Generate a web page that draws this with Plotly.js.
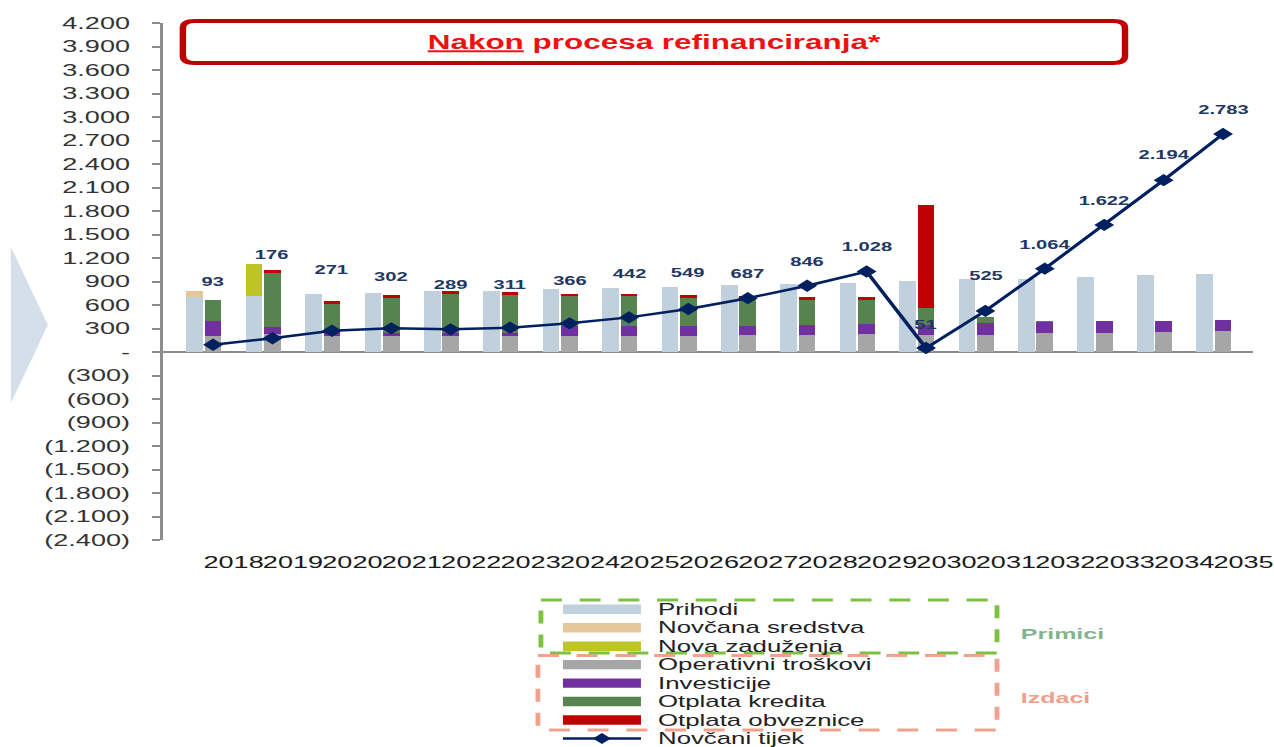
<!DOCTYPE html>
<html>
<head>
<meta charset="utf-8">
<script src="https://cdn.plot.ly/plotly-3.0.1.min.js"></script>
<style>
  html, body { margin: 0; padding: 0; background: #fff; overflow: hidden; width: 1274px; height: 747px; }
  #chart { width: 790px; height: 747px; transform-origin: 0 0; }
</style>
</head>
<body>
<div id="chart"></div>
<script>
// ---------------- DATA ----------------
const years = ['2018','2019','2020','2021','2022','2023','2024','2025','2026','2027','2028','2029','2030','2031','2032','2033','2034','2035'];

// Primici (receipts)
const prihodi          = [700, 720, 745, 755, 773, 785, 807, 820, 836, 853, 870, 887, 904, 926, 935, 955, 977, 998];
const novcanaSredstva  = [75, 0, 0, 0, 0, 0, 0, 0, 0, 0, 0, 0, 0, 0, 0, 0, 0, 0];
const novaZaduzenja    = [0, 405, 0, 0, 0, 0, 0, 0, 0, 0, 0, 0, 0, 0, 0, 0, 0, 0];

// Izdaci (expenditures)
const operativniTroskovi = [202, 230, 200, 200, 200, 200, 202, 202, 210, 219, 223, 232, 223, 223, 240, 245, 253, 262];
const investicije        = [200, 85, 40, 40, 40, 40, 124, 124, 119, 119, 128, 128, 128, 149, 149, 145, 145, 145];
const otplataKredita     = [268, 690, 375, 447, 503, 490, 387, 383, 357, 350, 319, 298, 213, 72, 6, 0, 0, 0];
const otplataObveznice   = [0, 43, 30, 43, 42, 30, 30, 34, 43, 30, 34, 42, 1319, 0, 0, 0, 0, 0];

// Novčani tijek (cash flow line)
const novcaniTijek       = [93, 176, 271, 302, 289, 311, 366, 442, 549, 687, 846, 1028, 51, 525, 1064, 1622, 2194, 2783];
const novcaniTijekLabels = ['93','176','271','302','289','311','366','442','549','687','846','1.028','51','525','1.064','1.622','2.194','2.783'];

// Y axis ticks
const yTickVals = [-2400,-2100,-1800,-1500,-1200,-900,-600,-300,0,300,600,900,1200,1500,1800,2100,2400,2700,3000,3300,3600,3900,4200];
const yTickText = ['(2.400)','(2.100)','(1.800)','(1.500)','(1.200)','(900)','(600)','(300)','-','300','600','900','1.200','1.500','1.800','2.100','2.400','2.700','3.000','3.300','3.600','3.900','4.200'];

// Legend group captions
const groupPrimici = 'Primici';
const groupIzdaci  = 'Izdaci';
const chartTitle   = '<b><u>Nakon</u> procesa refinanciranja*</b>';

// ---------------- STYLE / LAYOUT CONFIG ----------------
const S = 1274 / 790;            // horizontal stretch of the reference picture
const FONT = 'Liberation Sans, Arial, sans-serif';
const C = {
  prihodi: '#c0d0dc', novcana: '#e5c79c', nova: '#bcc524',
  oper: '#a6a6a6', inv: '#7030a0', kred: '#56834f', obv: '#c00000',
  line: '#002060', label: '#1f3864'
};
// label lift above each line point (px), to clear the bars
const labelRaise = [63, 83, 61, 51, 44, 43, 42, 43, 36, 24, 24, 24, 23, 35, 24, 24, 25, 24];

const idx = years.map((_, i) => i);
const OFF = 0.155, BW = 0.28;
const leftX  = idx.map(i => i - OFF);
const rightX = idx.map(i => i + OFF);

function bar(name, x, y, color) {
  return { type: 'bar', name, x, y, width: BW, marker: { color, line: { width: 0 } }, showlegend: false, hoverinfo: 'name+y' };
}

const traces = [
  bar('Prihodi', leftX, prihodi, C.prihodi),
  bar('Novčana sredstva', leftX, novcanaSredstva, C.novcana),
  bar('Nova zaduženja', leftX, novaZaduzenja, C.nova),
  bar('Operativni troškovi', rightX, operativniTroskovi, C.oper),
  bar('Investicije', rightX, investicije, C.inv),
  bar('Otplata kredita', rightX, otplataKredita, C.kred),
  bar('Otplata obveznice', rightX, otplataObveznice, C.obv),
  { type: 'scatter', mode: 'lines+markers', name: 'Novčani tijek', x: rightX, y: novcaniTijek,
    line: { color: C.line, width: 2.5 }, marker: { symbol: 'diamond', size: 9.5, color: C.line },
    showlegend: false, cliponaxis: false }
];

// pixel (reference picture) -> paper helpers; plot area = x 163..1253, y 23..540
const PX0 = 163, PXW = 1090, PY1 = 540, PYH = 517;
const px = v => (v - PX0) / PXW;
const py = v => (PY1 - v) / PYH;

const shapes = [];
const annotations = [];

// data labels
novcaniTijek.forEach((v, i) => {
  annotations.push({ x: rightX[i], y: v, xref: 'x', yref: 'y', text: '<b>' + novcaniTijekLabels[i] + '</b>',
    showarrow: false, xanchor: 'center', yanchor: 'middle', yshift: labelRaise[i],
    font: { family: FONT, size: 12.5, color: C.label } });
});

// title box (rounded rectangle)
(function () {
  const x0 = 183, x1 = 1125, y0 = 21, y1 = 63, rx = 12, ry = 7;
  const P = (x, y) => px(x).toFixed(5) + ',' + py(y).toFixed(5);
  const path = 'M' + P(x0 + rx, y0) + ' L' + P(x1 - rx, y0) + ' Q' + P(x1, y0) + ' ' + P(x1, y0 + ry) +
    ' L' + P(x1, y1 - ry) + ' Q' + P(x1, y1) + ' ' + P(x1 - rx, y1) +
    ' L' + P(x0 + rx, y1) + ' Q' + P(x0, y1) + ' ' + P(x0, y1 - ry) +
    ' L' + P(x0, y0 + ry) + ' Q' + P(x0, y0) + ' ' + P(x0 + rx, y0) + ' Z';
  shapes.push({ type: 'path', xref: 'paper', yref: 'paper', path, line: { color: '#c00000', width: 4 }, fillcolor: 'rgba(0,0,0,0)' });
})();

// left chevron
shapes.push({ type: 'path', xref: 'paper', yref: 'paper',
  path: 'M' + px(11) + ',' + py(247) + ' L' + px(48) + ',' + py(325) + ' L' + px(11) + ',' + py(403) + ' Z',
  fillcolor: '#d4dfe9', line: { width: 0 } });

// legend dashed group boxes
shapes.push({ type: 'rect', xref: 'paper', yref: 'paper', x0: px(541), x1: px(997), y0: py(600), y1: py(653),
  line: { color: '#7cc142', width: 3, dash: '13px,11px' }, fillcolor: 'rgba(0,0,0,0)' });
shapes.push({ type: 'rect', xref: 'paper', yref: 'paper', x0: px(538), x1: px(997), y0: py(655.5), y1: py(730),
  line: { color: '#f2a18c', width: 3, dash: '13px,11px' }, fillcolor: 'rgba(0,0,0,0)' });
annotations.push({ xref: 'paper', yref: 'paper', x: px(1018), y: py(633), xanchor: 'left', yanchor: 'middle', showarrow: false,
  text: '<b>' + groupPrimici + '</b>', font: { family: FONT, size: 15.5, color: '#84b48e' } });
annotations.push({ xref: 'paper', yref: 'paper', x: px(1018), y: py(697), xanchor: 'left', yanchor: 'middle', showarrow: false,
  text: '<b>' + groupIzdaci + '</b>', font: { family: FONT, size: 15.5, color: '#f0a08a' } });

// custom legend (swatches built from the traces)
const LEG_Y0 = 609.3, LEG_DY = 18.45, SW_X0 = 563, SW_X1 = 641, TXT_X = 655;
traces.forEach((t, i) => {
  const cy = LEG_Y0 + i * LEG_DY;
  if (t.type === 'bar') {
    shapes.push({ type: 'rect', xref: 'paper', yref: 'paper', x0: px(SW_X0), x1: px(SW_X1), y0: py(cy + 4.7), y1: py(cy - 4.7),
      fillcolor: t.marker.color, line: { width: 0 } });
  } else {
    shapes.push({ type: 'line', xref: 'paper', yref: 'paper', x0: px(SW_X0), x1: px(SW_X1), y0: py(cy), y1: py(cy),
      line: { color: t.line.color, width: 2.5 } });
    const mx = (SW_X0 + SW_X1) / 2;
    shapes.push({ type: 'path', xref: 'paper', yref: 'paper',
      path: 'M' + px(mx - 9) + ',' + py(cy) + ' L' + px(mx) + ',' + py(cy - 5.5) + ' L' + px(mx + 9) + ',' + py(cy) + ' L' + px(mx) + ',' + py(cy + 5.5) + ' Z',
      fillcolor: t.line.color, line: { width: 0 } });
  }
  annotations.push({ xref: 'paper', yref: 'paper', x: px(TXT_X), y: py(cy), xanchor: 'left', yanchor: 'middle', showarrow: false,
    text: t.name, font: { family: FONT, size: 16, color: '#222222' } });
});

const layout = {
  width: 790, height: 747, autosize: false,
  margin: { l: PX0 / S, r: (1274 - PX0 - PXW) / S, t: 23, b: 747 - PY1, pad: 0 },
  paper_bgcolor: '#ffffff', plot_bgcolor: '#ffffff',
  barmode: 'stack', bargap: 0,
  showlegend: false,
  title: { text: chartTitle, xref: 'container', yref: 'container', x: 654 / 1274, y: 1 - 42 / 747,
    xanchor: 'center', yanchor: 'middle', font: { family: FONT, size: 19.5, color: '#ee1111' } },
  xaxis: {
    range: [-0.69, 17.66], tickvals: idx.map(i => i + 0.5), ticktext: years, tickangle: 0,
    showgrid: false, zeroline: false, showline: false, ticks: '', ticklabeloverflow: 'allow',
    tickfont: { family: FONT, size: 16.8, color: '#1a1a1a' }, ticklabelstandoff: 10, fixedrange: true
  },
  yaxis: {
    range: [-2400, 4200], tickvals: yTickVals, ticktext: yTickText,
    showgrid: false, zeroline: true, zerolinecolor: '#8c8c8c', zerolinewidth: 2.5,
    showline: true, linecolor: '#8c8c8c', linewidth: 2,
    ticks: 'outside', ticklen: 5, tickwidth: 2, tickcolor: '#8c8c8c',
    tickfont: { family: FONT, size: 16.8, color: '#333333' }, ticklabelstandoff: 10, fixedrange: true
  },
  shapes, annotations
};

const gd = document.getElementById('chart');
Plotly.newPlot(gd, traces, layout, { displayModeBar: false, staticPlot: true }).then(() => {
  gd.style.transform = 'scaleX(' + S + ')';
});
</script>
</body>
</html>
